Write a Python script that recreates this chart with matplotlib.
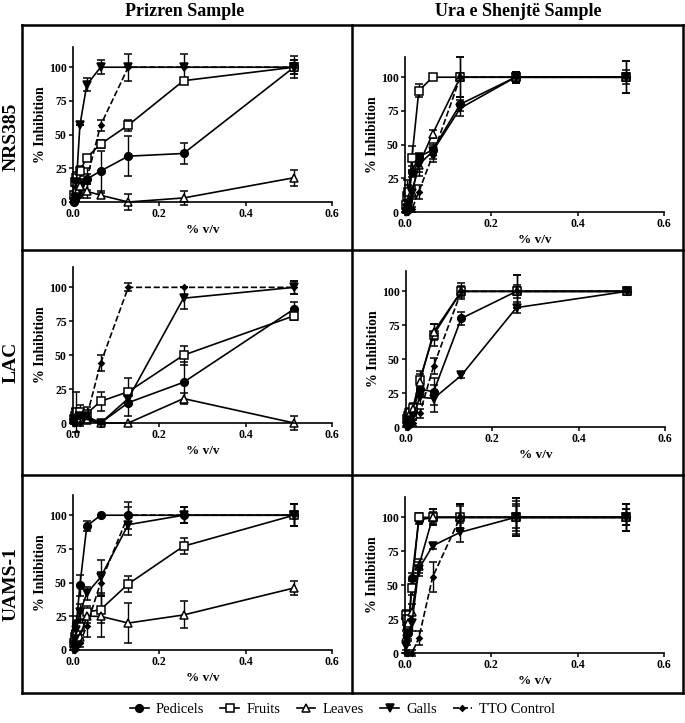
import matplotlib
matplotlib.use("Agg")
import matplotlib.pyplot as plt
from matplotlib.lines import Line2D

plt.rcParams['font.family'] = ['Liberation Serif', 'DejaVu Serif']

conc = [0.002, 0.004, 0.008, 0.016, 0.032, 0.064, 0.128, 0.256, 0.512]

series_names = ["Pedicels", "Fruits", "Leaves", "Galls", "TTO Control"]
col_titles = ["Prizren Sample", "Ura e Shenjtë Sample"]
row_titles = ["NRS385", "LAC", "UAMS-1"]

# Prizren / NRS385
p_nrs_ped = [0, 2, 8, 13, 17, 23, 34, 36, 100]
p_nrs_ped_err = [0, 2, 3, 4, 4, 15, 15, 8, 5]
p_nrs_fru = [5, 15, 18, 23, 33, 43, 57, 90, 100]
p_nrs_fru_err = [2, 3, 4, 4, 2, 3, 4, 2, 5]
p_nrs_lea = [2, 5, 10, 12, 8, 5, 0, 3, 18]
p_nrs_lea_err = [2, 3, 4, 4, 5, 2, 6, 5, 6]
p_nrs_gal = [0, 3, 15, 57, 87, 100, 100, 100, 100]
p_nrs_gal_err = [1, 2, 3, 0, 5, 5, 0, 0, 3]
p_nrs_tto = [0, 0, 2, 5, 17, 57, 100, 100, 100]
p_nrs_tto_err = [0, 0, 1, 2, 8, 4, 10, 10, 8]

# Ura e Shenjte / NRS385
u_nrs_ped = [2, 5, 8, 30, 41, 46, 80, 100, 100]
u_nrs_ped_err = [1, 2, 3, 4, 3, 4, 5, 4, 5]
u_nrs_fru = [5, 12, 15, 40, 90, 100, 100, 100, 100]
u_nrs_fru_err = [2, 12, 5, 9, 5, 0, 3, 4, 3]
u_nrs_lea = [2, 5, 8, 15, 35, 58, 100, 100, 100]
u_nrs_lea_err = [1, 2, 3, 4, 8, 3, 15, 3, 3]
u_nrs_gal = [0, 3, 6, 14, 35, 45, 77, 100, 100]
u_nrs_gal_err = [1, 2, 3, 4, 5, 6, 6, 4, 12]
u_nrs_tto = [0, 0, 0, 2, 15, 42, 100, 100, 100]
u_nrs_tto_err = [0, 0, 0, 2, 5, 5, 15, 3, 12]

# Prizren / LAC
p_lac_ped = [2, 3, 5, 3, 3, 0, 15, 30, 84]
p_lac_ped_err = [1, 2, 3, 2, 2, 0, 10, 15, 5]
p_lac_fru = [3, 5, 8, 8, 7, 16, 23, 50, 79]
p_lac_fru_err = [2, 5, 15, 5, 5, 7, 10, 7, 3]
p_lac_lea = [2, 3, 5, 3, 2, 0, 0, 18, 0]
p_lac_lea_err = [1, 2, 2, 2, 2, 0, 0, 4, 5]
p_lac_gal = [0, 2, 3, 5, 5, 0, 18, 92, 100]
p_lac_gal_err = [1, 2, 2, 3, 3, 0, 5, 8, 5]
p_lac_tto = [0, 0, 0, 0, 5, 44, 100, 100, 100]
p_lac_tto_err = [0, 0, 0, 2, 3, 6, 3, 0, 5]

# Ura e Shenjte / LAC
u_lac_ped = [2, 4, 8, 12, 28, 26, 80, 100, 100]
u_lac_ped_err = [1, 2, 3, 4, 5, 10, 5, 12, 2]
u_lac_fru = [6, 8, 10, 14, 35, 68, 100, 100, 100]
u_lac_fru_err = [2, 3, 4, 4, 6, 8, 6, 12, 2]
u_lac_lea = [4, 6, 9, 13, 33, 70, 100, 100, 100]
u_lac_lea_err = [2, 3, 4, 4, 6, 6, 4, 5, 2]
u_lac_gal = [1, 3, 5, 8, 22, 21, 38, 88, 100]
u_lac_gal_err = [1, 2, 3, 3, 5, 10, 2, 4, 2]
u_lac_tto = [0, 0, 1, 3, 10, 45, 100, 100, 100]
u_lac_tto_err = [0, 0, 1, 2, 3, 6, 3, 3, 2]

# Prizren / UAMS-1
p_uam_ped = [5, 10, 20, 48, 92, 100, 100, 100, 100]
p_uam_ped_err = [3, 4, 5, 8, 4, 0, 10, 6, 8]
p_uam_fru = [5, 10, 12, 17, 28, 30, 49, 77, 100]
p_uam_fru_err = [3, 4, 5, 6, 5, 10, 6, 6, 8]
p_uam_lea = [3, 5, 8, 10, 25, 25, 20, 26, 46]
p_uam_lea_err = [2, 3, 4, 5, 5, 15, 15, 10, 5]
p_uam_gal = [3, 8, 15, 28, 42, 54, 93, 100, 100]
p_uam_gal_err = [2, 3, 5, 6, 5, 13, 8, 6, 8]
p_uam_tto = [0, 0, 2, 5, 18, 50, 100, 100, 100]
p_uam_tto_err = [0, 0, 2, 3, 8, 8, 6, 6, 8]

# Ura e Shenjte / UAMS-1
u_uam_ped = [25, 20, 15, 55, 98, 100, 100, 100, 100]
u_uam_ped_err = [4, 5, 6, 4, 3, 6, 10, 14, 10]
u_uam_fru = [28, 25, 20, 48, 100, 100, 100, 100, 100]
u_uam_fru_err = [4, 5, 6, 5, 3, 4, 8, 12, 10]
u_uam_lea = [12, 20, 22, 30, 64, 100, 100, 100, 100]
u_uam_lea_err = [4, 5, 6, 6, 5, 6, 10, 14, 10]
u_uam_gal = [5, 10, 15, 22, 62, 79, 89, 100, 100]
u_uam_gal_err = [3, 4, 5, 6, 5, 2, 7, 8, 6]
u_uam_tto = [0, 0, 0, 0, 11, 56, 100, 100, 100]
u_uam_tto_err = [0, 0, 1, 2, 5, 11, 10, 10, 6]

panels = [
    [(p_nrs_ped, p_nrs_ped_err), (p_nrs_fru, p_nrs_fru_err), (p_nrs_lea, p_nrs_lea_err),
     (p_nrs_gal, p_nrs_gal_err), (p_nrs_tto, p_nrs_tto_err)],
    [(u_nrs_ped, u_nrs_ped_err), (u_nrs_fru, u_nrs_fru_err), (u_nrs_lea, u_nrs_lea_err),
     (u_nrs_gal, u_nrs_gal_err), (u_nrs_tto, u_nrs_tto_err)],
    [(p_lac_ped, p_lac_ped_err), (p_lac_fru, p_lac_fru_err), (p_lac_lea, p_lac_lea_err),
     (p_lac_gal, p_lac_gal_err), (p_lac_tto, p_lac_tto_err)],
    [(u_lac_ped, u_lac_ped_err), (u_lac_fru, u_lac_fru_err), (u_lac_lea, u_lac_lea_err),
     (u_lac_gal, u_lac_gal_err), (u_lac_tto, u_lac_tto_err)],
    [(p_uam_ped, p_uam_ped_err), (p_uam_fru, p_uam_fru_err), (p_uam_lea, p_uam_lea_err),
     (p_uam_gal, p_uam_gal_err), (p_uam_tto, p_uam_tto_err)],
    [(u_uam_ped, u_uam_ped_err), (u_uam_fru, u_uam_fru_err), (u_uam_lea, u_uam_lea_err),
     (u_uam_gal, u_uam_gal_err), (u_uam_tto, u_uam_tto_err)],
]

# marker, facecolor, linestyle, markersize for each series
styles = [
    ("o", "black", "-", 5.5),
    ("s", "white", "-", 6),
    ("^", "white", "-", 6),
    ("v", "black", "-", 6),
    ("D", "black", "--", 2.8),
]

W, H = 685, 723
fig = plt.figure(figsize=(W / 100, H / 100), dpi=100)

# axes boxes in pixels: left, top(of y=115), bottom(y=0)
ax_px = [(73, 47, 202), (405, 57, 212),
         (73, 267, 423), (406, 271, 427),
         (73, 495, 650), (405, 497, 653)]
ax_w = 259

for i, (lx, ty, by) in enumerate(ax_px):
    ax = fig.add_axes([lx / W, 1 - by / H, ax_w / W, (by - ty) / H])
    for (vals, errs), (mk, fc, ls, ms) in zip(panels[i], styles):
        ax.errorbar(conc, vals, yerr=errs, color="black", marker=mk, markerfacecolor=fc,
                    markeredgecolor="black", markeredgewidth=1.1, markersize=ms,
                    linestyle=ls, linewidth=1.2,
                    elinewidth=1.0, capsize=2.8, capthick=1.0, clip_on=False)
    ax.set_xlim(0, 0.6)
    ax.set_ylim(0, 115)
    ax.set_xticks([0.0, 0.2, 0.4, 0.6])
    ax.set_xticklabels(["0.0", "0.2", "0.4", "0.6"])
    ax.set_yticks([0, 25, 50, 75, 100])
    ax.spines["top"].set_visible(False)
    ax.spines["right"].set_visible(False)
    ax.spines["left"].set_linewidth(1.2)
    ax.spines["bottom"].set_linewidth(1.2)
    ax.tick_params(length=3, width=1.1, labelsize=8.5, pad=1.5)
    for lab in ax.get_xticklabels() + ax.get_yticklabels():
        lab.set_fontweight("bold")
    ax.set_xlabel("% v/v", fontsize=9.5, fontweight="bold", labelpad=3)
    ax.set_ylabel("% Inhibition", fontsize=10, fontweight="bold", labelpad=1)

# panel frame lines
left, mid, right = 22 / W, 352 / W, 683 / W
ys = [1 - 25 / H, 1 - 250 / H, 1 - 475 / H, 1 - 693 / H]
for y in ys:
    fig.add_artist(Line2D([left, right], [y, y], color="black", linewidth=1.8))
for x in [left, mid, right]:
    fig.add_artist(Line2D([x, x], [ys[0], ys[-1]], color="black", linewidth=1.8))

fig.text(185 / W, 1 - 11 / H, col_titles[0], ha="center", va="center", fontsize=13, fontweight="bold")
fig.text(518 / W, 1 - 11 / H, col_titles[1], ha="center", va="center", fontsize=13, fontweight="bold")
for name, yc in zip(row_titles, [137, 362, 584]):
    fig.text(11 / W, 1 - yc / H, name, ha="center", va="center", rotation=90,
             fontsize=14, fontweight="bold")

handles = []
for name, (mk, fc, ls, ms) in zip(series_names, styles):
    handles.append(Line2D([], [], color="black", marker=mk, markerfacecolor=fc,
                          markeredgecolor="black", markeredgewidth=1.1, markersize=ms,
                          linestyle=ls, linewidth=1.2))
fig.legend(handles, series_names, loc="center", bbox_to_anchor=(0.5, 1 - 709 / H), ncol=5,
           frameon=False, fontsize=10.5, handlelength=1.3, handletextpad=0.5, columnspacing=1.1)

fig.savefig("out.png", dpi=100)
